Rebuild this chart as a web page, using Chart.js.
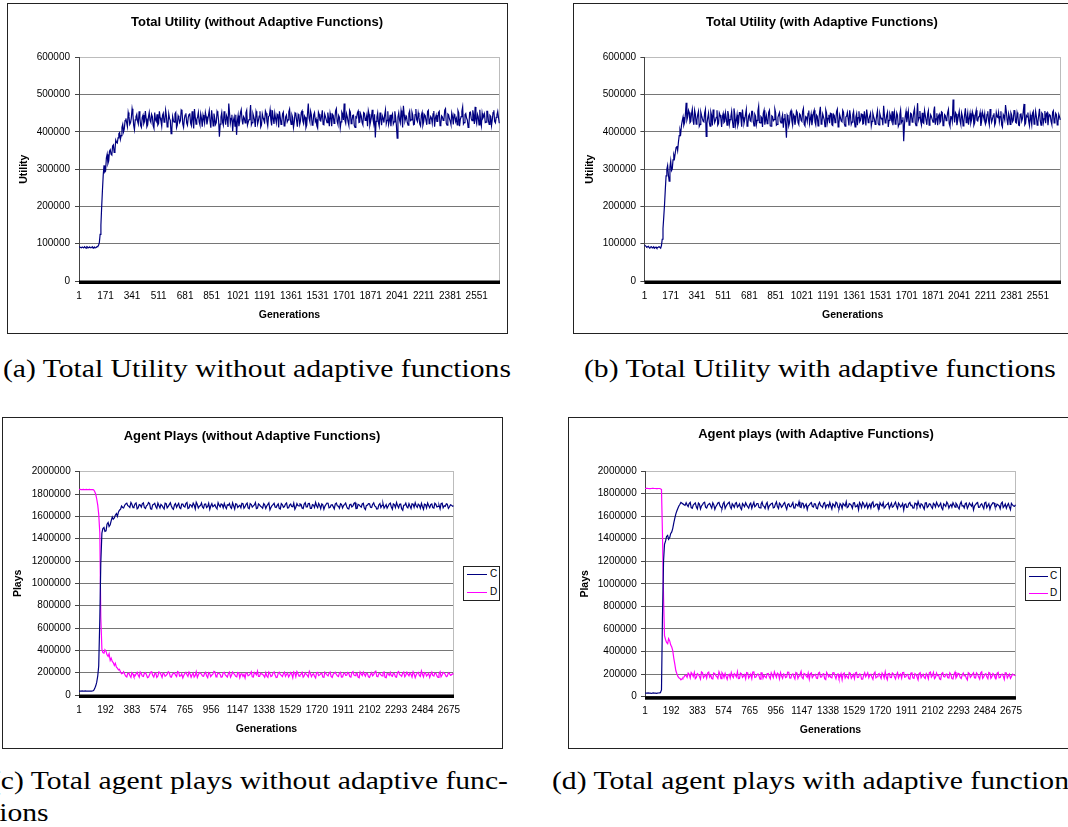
<!DOCTYPE html>
<html><head><meta charset="utf-8">
<script src="https://cdn.jsdelivr.net/npm/chart.js@4.4.1/dist/chart.umd.min.js"></script>
<style>
html,body{margin:0;padding:0;background:#fff;}
body{width:1068px;height:827px;overflow:hidden;position:relative;}
.panel{position:absolute;border:1px solid #222;box-sizing:border-box;}
canvas{position:absolute;}
.ctitle{position:absolute;width:400px;text-align:center;font:bold 13px 'Liberation Sans',Arial,sans-serif;line-height:16px;color:#000;white-space:nowrap;}
.cap{position:absolute;top:0;font-family:'Liberation Serif','Times New Roman',serif;font-size:25px;line-height:30px;white-space:nowrap;color:#000;transform-origin:0 0;}
.legend{position:absolute;border:1px solid #222;box-sizing:border-box;background:#fff;font:10px 'Liberation Sans',Arial,sans-serif;color:#000;}
.legend .ln{position:absolute;height:1px;}
.legend .lt{position:absolute;line-height:12px;}
</style></head><body>

<div class="panel" style="left:7px;top:3px;width:501px;height:331px;"></div>
<div class="panel" style="left:573px;top:3px;width:520px;height:331px;"></div>
<div class="panel" style="left:2px;top:417px;width:501px;height:332px;"></div>
<div class="panel" style="left:568px;top:417px;width:520px;height:332px;"></div>

<canvas id="chA" width="498" height="329" style="left:8px;top:4px;"></canvas>
<canvas id="chB" width="494" height="329" style="left:574px;top:4px;"></canvas>
<canvas id="chC" width="498" height="329" style="left:3px;top:418px;"></canvas>
<canvas id="chD" width="494" height="329" style="left:569px;top:418px;"></canvas>

<div class="ctitle" style="left:57px;top:14px;">Total Utility (without Adaptive Functions)</div>
<div class="ctitle" style="left:622px;top:14px;">Total Utility (with Adaptive Functions)</div>
<div class="ctitle" style="left:52px;top:428px;">Agent Plays (without Adaptive Functions)</div>
<div class="ctitle" style="left:616px;top:426px;">Agent plays (with Adaptive Functions)</div>

<div class="legend" id="legC" style="left:463px;top:566px;width:37px;height:35px;"></div>
<div class="legend" id="legD" style="left:1025px;top:567px;width:36px;height:34px;"></div>

<div class="cap" id="capA" data-baseline="377">(a) Total Utility without adaptive functions</div>
<div class="cap" id="capB" data-baseline="377">(b) Total Utility with adaptive functions</div>
<div class="cap" id="capC1" data-baseline="789">(c) Total agent plays without adaptive func-</div>
<div class="cap" id="capC2" data-baseline="821">tions</div>
<div class="cap" id="capD" data-baseline="789">(d) Total agent plays with adaptive functions</div>

<script>
// ---------------- DATA ----------------
// Utility, in thousands. "main" arrays: generations 1, 11, 21, ...; "mid" arrays: generations 6, 16, 26, ...
const UTIL_GEN_STEP = 10, UTIL_MID_OFFSET = 5;
const utilityWithout_k = [
92,90,91,89,90,92,89,91,90,88,
91,90,93,103,150,245,310,295,340,322,
352,338,365,350,372,384,398,390,420,408,
436,414,441,425,462,418,432,447,421,438,
412,445,428,436,419,452,426,441,410,433,
447,422,438,415,450,429,443,420,436,395,
441,426,452,418,437,430,456,412,445,424,
438,450,417,433,461,421,440,427,448,414,
435,452,420,444,428,458,416,437,425,449,
387,440,426,455,419,438,476,423,446,431,
415,392,444,428,460,420,437,451,418,433,
472,425,441,413,447,430,455,419,438,426,
450,416,443,431,458,421,436,447,412,440,
427,453,418,445,432,461,420,438,426,449,
414,443,430,456,422,439,418,476,428,445,
421,452,434,410,447,429,458,419,441,425,
437,450,415,444,431,462,420,439,427,448,
476,423,441,418,453,430,445,412,438,456,
426,442,419,450,433,415,447,428,459,421,
385,440,425,452,418,437,446,422,455,430,
415,448,427,439,383,451,424,443,470,429,
441,418,456,432,445,420,461,428,439,416,
452,427,443,419,458,431,437,448,414,445,
428,455,421,440,433,462,418,446,429,451,
420,443,436,457,415,441,467,425,449,432,
418,453,430,445,467,422,440,459,416,437,
448,426,455,420,441,433,458,424,446,438
];
const utilityWithout_mid_k = [
91,89,90,92,88,91,90,89,92,90,
89,92,96,125,200,285,292,330,315,348,
340,362,345,378,370,395,380,412,400,430,
425,452,420,437,448,406,441,429,455,417,
439,422,456,414,440,431,447,417,452,428,
418,455,429,444,426,458,413,449,431,407,
430,448,411,443,425,459,421,434,450,418,
446,424,455,409,440,433,452,419,436,445,
423,441,432,457,411,438,449,420,455,429,
421,452,418,437,444,413,450,436,402,440,
446,428,415,452,433,441,424,458,426,447,
419,449,432,455,421,442,413,448,431,456,
428,441,459,417,436,450,424,443,455,420,
448,416,440,427,454,433,445,412,451,430,
447,420,452,429,443,411,450,437,455,418,
446,428,416,453,431,442,420,448,433,452,
415,439,447,423,456,428,444,411,453,432,
431,449,427,458,422,444,417,440,451,425,
449,425,452,431,444,457,418,440,433,447,
428,451,415,436,443,425,459,431,420,446,
442,421,455,418,440,432,457,412,446,437,
425,449,430,453,419,446,433,451,421,444,
418,446,430,455,422,441,423,456,437,428,
452,417,443,431,458,423,448,435,420,441,
447,428,419,451,433,455,421,446,437,412,
452,436,458,421,432,447,419,429,450,441,
425,455,431,444,417,452,428,439,455,423
];
const utilityWith_k = [
97,93,92,90,91,89,92,90,88,91,
90,95,140,205,282,310,268,322,300,338,
345,362,372,405,418,440,425,478,440,452,
428,461,419,447,432,455,420,444,429,451,
388,438,426,453,417,442,431,458,422,445,
413,449,428,437,456,420,441,430,463,418,
446,425,452,414,439,433,460,421,447,428,
455,416,442,431,469,424,438,450,419,444,
427,458,415,441,433,452,420,446,429,437,
411,448,384,440,425,457,418,443,431,452,
420,445,428,463,416,439,450,422,447,433,
458,419,442,430,467,425,440,414,451,436,
423,449,417,444,432,461,421,438,427,453,
415,442,435,458,420,446,429,440,418,455,
431,447,422,439,460,425,443,416,450,434,
428,457,419,441,436,470,424,445,413,449,
432,418,453,427,444,421,459,430,375,442,
426,455,420,448,433,462,417,477,438,429,
451,423,444,419,457,430,441,426,468,435,
418,447,429,452,421,443,436,460,415,440,
487,425,448,431,455,420,442,428,463,437,
419,450,433,446,424,458,429,441,416,453,
435,421,447,430,461,426,444,418,452,439,
427,455,413,441,472,432,449,420,445,431,
458,424,443,417,450,436,475,423,440,429,
446,419,455,432,441,427,462,418,448,435,
423,452,438,444,420,457,431,446,425,440
];
const utilityWith_mid_k = [
95,91,93,89,92,90,88,91,89,92,
88,112,172,245,300,285,305,296,325,330,
358,350,390,396,430,418,446,432,458,425,
449,430,458,421,446,415,453,436,427,460,
423,450,415,444,460,425,439,418,451,436,
440,425,451,418,445,433,455,412,448,431,
417,452,436,460,423,447,415,442,430,455,
428,447,419,456,425,441,413,458,433,422,
453,416,443,430,461,418,439,452,424,446,
435,420,445,416,452,430,447,419,456,425,
448,431,455,420,441,428,457,434,418,451,
427,445,416,453,421,448,432,459,424,446,
450,419,447,425,455,413,446,429,458,422,
440,452,417,443,426,455,413,449,438,427,
448,421,455,417,444,433,450,428,441,420,
445,422,450,435,418,446,428,453,431,442,
455,440,421,451,415,447,425,439,420,455,
441,418,450,426,453,424,446,431,456,419,
425,457,431,448,418,446,433,455,419,450,
442,425,454,417,446,430,452,422,441,428,
445,452,418,444,429,451,416,447,425,451,
436,424,454,418,447,431,440,452,428,444,
449,427,455,419,441,434,450,425,441,452,
441,419,446,432,455,418,440,451,427,457,
426,452,418,446,429,455,419,444,452,417,
433,450,421,455,418,444,430,451,424,456,
449,418,446,428,453,424,450,419,447,432
];
// Plays, in thousands. "main": generations 1, 16, 31, ...; "mid": generations 8, 23, 38, ...
const PLAYS_GEN_STEP = 15, PLAYS_MID_OFFSET = 7;
const playsC_without_k = [
35,34,35,36,34,35,35,40,80,170,
680,1450,1500,1470,1545,1525,1595,1585,1625,1640,
1665,1680,1700,1718,1690,1724,1678,1712,1668,1705,
1683,1721,1670,1702,1715,1664,1708,1686,1719,1675,
1697,1666,1713,1689,1722,1672,1703,1681,1716,1669,
1710,1684,1725,1676,1699,1718,1667,1706,1691,1720,
1673,1711,1688,1662,1714,1695,1679,1723,1685,1704,
1716,1670,1700,1682,1721,1665,1709,1692,1676,1713,
1687,1719,1668,1705,1694,1724,1674,1702,1683,1715,
1671,1708,1658,1697,1717,1680,1712,1666,1703,1688,
1720,1677,1710,1686,1664,1714,1693,1707,1669,1722,
1684,1716,1672,1701,1725,1678,1697,1711,1663,1706,
1718,1681,1704,1667,1719,1690,1713,1675,1708,1686,
1666,1709,1694,1723,1671,1703,1682,1717,1660,1700,
1712,1679,1721,1687,1668,1715,1698,1673,1706,1692,
1719,1664,1703,1724,1676,1710,1655,1701,1685,1714,
1670,1708,1722,1681,1699,1716,1663,1705,1720,1678,
1711,1674,1707,1689,1666,1718,1695,1712,1672,1704,1690
];
const playsC_without_mid_k = [
34,36,34,35,35,34,36,55,110,260,
1180,1490,1465,1530,1510,1560,1575,1610,1600,1655,
1692,1675,1712,1696,1680,1708,1688,1720,1676,1701,
1712,1679,1694,1724,1668,1703,1716,1672,1698,1707,
1681,1718,1676,1705,1693,1663,1714,1700,1678,1710,
1690,1715,1670,1706,1682,1701,1726,1675,1696,1684,
1709,1679,1717,1693,1686,1705,1668,1700,1711,1677,
1688,1703,1715,1671,1696,1712,1680,1699,1717,1673,
1708,1676,1714,1683,1702,1669,1711,1690,1673,1704,
1693,1721,1679,1705,1684,1698,1672,1715,1681,1710,
1674,1700,1689,1718,1682,1697,1712,1675,1708,1684,
1715,1671,1706,1680,1695,1716,1668,1703,1690,1719,
1676,1701,1687,1710,1694,1673,1707,1696,1719,1671,
1705,1684,1716,1670,1708,1692,1711,1674,1698,1713,
1681,1707,1693,1666,1702,1679,1716,1688,1674,1710,
1686,1712,1678,1697,1708,1669,1700,1718,1676,1693,
1712,1681,1695,1710,1672,1688,1709,1676,1698,1704,
1679,1717,1685,1700,1713,1677,1690,1708,1684,1700,1695
];
const playsD_without_k = [
1842,1840,1841,1840,1839,1841,1840,1838,1800,1700,
1450,410,375,390,345,310,300,265,250,225,
205,195,185,162,196,158,188,171,203,160,
191,166,200,155,184,207,161,195,170,199,
157,190,176,209,163,186,198,165,202,172,
154,193,181,205,160,197,175,158,201,187,
168,204,156,192,179,211,162,198,185,164,
203,170,194,159,206,182,163,199,188,167,
152,196,178,208,161,193,214,166,189,174,
200,158,191,172,207,156,197,183,165,204,
186,162,201,155,194,210,169,187,160,199,
176,212,164,190,153,202,180,196,159,192,
171,206,157,195,184,166,203,161,198,178,
193,160,209,173,197,154,188,205,168,191,
158,199,182,213,164,194,170,206,155,190,
202,167,189,159,210,178,196,163,204,172,
185,207,156,198,175,215,162,196,183,157,
204,169,193,158,208,181,197,164,200,177,190
];
const playsD_without_mid_k = [
1841,1840,1839,1841,1840,1840,1839,1825,1760,1620,
700,380,405,360,370,330,290,285,240,230,
190,208,170,192,175,200,163,189,178,205,
169,194,182,160,203,176,190,158,206,183,
196,168,187,201,159,193,177,210,168,190,
175,203,166,190,182,161,209,179,195,170,
192,173,200,165,187,206,174,193,160,199,
180,160,205,177,194,168,201,155,191,184,
198,171,189,163,202,180,167,195,185,160,
170,205,165,196,182,158,204,176,190,167,
197,176,189,207,163,192,178,203,171,188,
162,195,183,168,201,174,190,161,205,180,
194,167,186,203,172,196,160,189,177,202,
165,199,180,192,161,206,174,187,196,163,
183,172,204,167,191,180,201,159,193,176,
174,195,163,200,183,168,206,177,187,198,
161,190,179,203,166,187,200,170,194,183,
175,196,171,189,163,202,184,169,193,180,186
];
const playsC_with_k = [
33,31,32,30,33,31,32,34,60,1200,
1380,1430,1410,1460,1540,1620,1670,1705,1715,1700,
1718,1685,1722,1670,1709,1680,1716,1664,1702,1723,
1672,1706,1689,1719,1660,1700,1721,1677,1711,1668,
1704,1724,1666,1695,1714,1679,1708,1658,1697,1719,
1683,1705,1669,1722,1692,1712,1674,1725,1686,1707,
1665,1701,1716,1678,1726,1667,1703,1690,1720,1661,
1710,1682,1719,1671,1700,1727,1676,1713,1694,1659,
1699,1721,1680,1708,1666,1723,1688,1714,1673,1702,
1720,1663,1697,1724,1678,1711,1668,1700,1728,1684,
1706,1670,1718,1688,1657,1703,1722,1679,1714,1693,
1672,1726,1690,1708,1664,1699,1719,1681,1705,1669,
1715,1686,1724,1667,1701,1692,1655,1709,1680,1721,
1696,1673,1711,1729,1677,1703,1662,1718,1689,1706,
1668,1702,1722,1683,1714,1658,1697,1725,1671,1704,
1719,1680,1700,1664,1727,1692,1710,1669,1716,1688,
1656,1703,1721,1679,1709,1666,1724,1695,1661,1706,
1717,1682,1698,1666,1723,1690,1670,1712,1657,1699,1688
];
const playsC_with_mid_k = [
32,33,31,31,32,30,33,35,700,1350,
1420,1395,1445,1490,1580,1645,1690,1722,1708,1695,
1700,1712,1676,1698,1717,1664,1707,1690,1718,1679,
1695,1713,1671,1702,1684,1716,1693,1668,1724,1688,
1714,1686,1709,1678,1720,1690,1675,1711,1683,1700,
1671,1716,1697,1683,1712,1678,1704,1693,1668,1721,
1690,1711,1673,1706,1684,1715,1679,1709,1686,1703,
1685,1700,1672,1707,1690,1681,1716,1675,1707,1692,
1713,1687,1710,1672,1704,1694,1677,1721,1698,1681,
1692,1709,1681,1716,1667,1700,1712,1689,1676,1711,
1695,1716,1683,1701,1720,1676,1709,1693,1670,1707,
1714,1680,1706,1675,1718,1689,1672,1700,1717,1691,
1679,1708,1690,1715,1682,1712,1703,1677,1711,1694,
1672,1715,1687,1701,1710,1682,1716,1678,1709,1683,
1714,1681,1704,1697,1675,1709,1686,1711,1692,1680,
1700,1713,1679,1706,1689,1673,1716,1688,1703,1712,
1689,1714,1678,1700,1688,1718,1676,1710,1691,1720,
1684,1705,1692,1711,1677,1707,1694,1683,1713,1690,1701
];
const playsD_with_k = [
1845,1846,1844,1845,1847,1845,1844,1845,1835,880,
505,470,495,440,340,230,180,162,158,175,
188,209,166,200,215,170,195,156,211,183,
164,218,192,158,205,177,221,160,196,207,
153,199,214,168,193,222,162,203,185,159,
210,182,161,219,174,201,155,212,190,167,
206,158,189,220,171,198,213,163,195,176,
217,165,202,157,208,185,224,160,199,172,
154,211,186,198,161,216,175,204,152,197,
193,166,213,159,202,180,150,209,188,163,
207,181,160,215,172,198,156,212,194,168,
199,155,218,177,205,162,191,220,151,206,
170,201,158,214,189,164,216,176,197,155,
211,163,195,149,214,187,170,205,158,219,
188,160,209,192,152,213,175,200,166,196,
157,218,182,203,161,210,190,149,204,184,
212,166,199,156,220,178,204,159,209,180,
193,162,215,171,201,154,210,186,163,200,190
];
const playsD_with_mid_k = [
1846,1845,1844,1846,1845,1844,1845,1843,1450,540,
480,515,460,410,290,205,168,150,172,190,
172,198,214,178,160,204,181,219,168,196,
209,175,161,210,186,162,199,213,170,180,
191,165,185,204,176,160,210,172,196,214,
165,201,218,170,193,186,212,164,178,203,
178,211,168,196,208,158,185,201,170,218,
166,196,178,214,162,197,171,206,184,210,
203,170,193,165,209,174,198,160,215,176,
171,212,186,194,162,205,199,166,175,214,
163,197,210,170,201,155,188,176,212,190,
175,204,167,196,184,210,165,177,203,171,
211,178,195,166,200,215,172,196,160,208,
168,204,176,206,169,199,161,190,212,173,
214,170,186,158,203,179,196,168,211,160,
195,166,207,172,190,185,165,213,171,198,
168,211,176,209,163,197,176,215,163,205,
172,207,168,196,183,212,166,200,178,195,186
];
// Tick labels and series names
const utilityXTicks = [1,171,341,511,681,851,1021,1191,1361,1531,1701,1871,2041,2211,2381,2551];
const playsXTicks = [1,192,383,574,765,956,1147,1338,1529,1720,1911,2102,2293,2484,2675];
const utilityYTicks = [0,100000,200000,300000,400000,500000,600000];
const playsYTicks = [0,200000,400000,600000,800000,1000000,1200000,1400000,1600000,1800000,2000000];
const seriesLabels = ['C', 'D'];
const NAVY = '#000080', MAGENTA = '#ff00ff';

// merge the two sampled arrays into {generation, value} points (values given in thousands)
function toPoints(main, mid, step, offset) {
  const pts = [];
  main.forEach((v, i) => {
    pts.push({ x: 1 + step * i, y: v * 1000 });
    if (mid[i] !== undefined) pts.push({ x: 1 + step * i + offset, y: mid[i] * 1000 });
  });
  return pts;
}

// ---------------- CHARTS ----------------
Chart.defaults.font.family = "'Liberation Sans', Arial, sans-serif";
Chart.defaults.color = '#000';

const deco = {
  id: 'deco',
  beforeDatasetsDraw(chart) {
    const { ctx, chartArea: a } = chart;
    ctx.save();
    ctx.strokeStyle = '#bcbcbc'; ctx.lineWidth = 1;
    ctx.beginPath(); ctx.moveTo(a.right - 0.5, a.top); ctx.lineTo(a.right - 0.5, a.bottom); ctx.stroke();
    ctx.restore();
  },
  afterDatasetsDraw(chart) {
    const { ctx, chartArea: a } = chart;
    ctx.save();
    ctx.fillStyle = '#000';
    ctx.fillRect(a.left, a.bottom - 0.5, a.right - a.left, 3.5);
    ctx.restore();
  }
};

function buildChart(id, spec) {
  const ymax = spec.yTicks[spec.yTicks.length - 1];
  return new Chart(document.getElementById(id), {
    type: 'line',
    data: {
      datasets: spec.series.map(s => ({
        label: s.label,
        data: s.points,
        borderColor: s.color, backgroundColor: s.color,
        borderWidth: s.width, pointRadius: 0, tension: 0, fill: false
      }))
    },
    options: {
      responsive: false, animation: false, events: [], devicePixelRatio: 1,
      layout: { padding: { left: 0, top: spec.padTop, right: spec.padRight, bottom: 0 } },
      plugins: { legend: { display: false }, tooltip: { enabled: false }, title: { display: false } },
      scales: {
        x: {
          type: 'linear', min: spec.xMin, max: spec.xMax,
          afterBuildTicks: sc => { sc.ticks = spec.xTicks.map(v => ({ value: v })); },
          afterFit: sc => { sc.height = spec.xHeight; },
          ticks: { autoSkip: false, maxRotation: 0, minRotation: 0, padding: spec.xTickPad,
                   font: { size: 10 }, color: '#000', callback: v => String(v) },
          grid: { display: false, drawTicks: false },
          border: { display: false },
          title: { display: true, text: 'Generations', font: { size: 10.5, weight: 'bold' }, color: '#000',
                   padding: { top: 0, bottom: spec.xTitlePad } }
        },
        y: {
          type: 'linear', min: 0, max: ymax,
          afterBuildTicks: sc => { sc.ticks = spec.yTicks.map(v => ({ value: v })); },
          afterFit: sc => { sc.width = spec.yWidth; },
          ticks: { padding: spec.yTickPad, font: { size: 10 }, color: '#000', callback: v => String(v) },
          grid: { color: c => (c.tick && c.tick.value === ymax) ? '#bcbcbc' : '#767676',
                  tickColor: '#444', tickLength: 4, lineWidth: 1 },
          border: { display: true, color: '#444', width: 1 },
          title: { display: true, text: spec.yTitle, font: { size: 10.5, weight: 'bold' }, color: '#000',
                   padding: { top: spec.yTitlePad, bottom: 0 } }
        }
      }
    },
    plugins: [deco]
  });
}

const chA = buildChart('chA', {
  xTicks: utilityXTicks, yTicks: utilityYTicks, xMin: 0.5, xMax: 2700.5,
  series: [{ label: 'Utility', points: toPoints(utilityWithout_k, utilityWithout_mid_k, UTIL_GEN_STEP, UTIL_MID_OFFSET), color: NAVY, width: 1.2 }],
  yTitle: 'Utility', padTop: 53.3, padRight: 6, yWidth: 71, xHeight: 52,
  xTickPad: 9, xTitlePad: 11.7, yTickPad: 5, yTitlePad: 9.7
});
const chB = buildChart('chB', {
  xTicks: utilityXTicks, yTicks: utilityYTicks, xMin: 0.5, xMax: 2700.5,
  series: [{ label: 'Utility', points: toPoints(utilityWith_k, utilityWith_mid_k, UTIL_GEN_STEP, UTIL_MID_OFFSET), color: NAVY, width: 1.2 }],
  yTitle: 'Utility', padTop: 53.3, padRight: 7, yWidth: 70.4, xHeight: 52,
  xTickPad: 9, xTitlePad: 11.7, yTickPad: 4.3, yTitlePad: 9.7
});
const chC = buildChart('chC', {
  xTicks: playsXTicks, yTicks: playsYTicks, xMin: 0.5, xMax: 2711.5,
  series: [{ label: seriesLabels[0], points: toPoints(playsC_without_k, playsC_without_mid_k, PLAYS_GEN_STEP, PLAYS_MID_OFFSET), color: NAVY, width: 1.2 },
           { label: seriesLabels[1], points: toPoints(playsD_without_k, playsD_without_mid_k, PLAYS_GEN_STEP, PLAYS_MID_OFFSET), color: MAGENTA, width: 1.2 }],
  yTitle: 'Plays', padTop: 53.7, padRight: 47, yWidth: 76, xHeight: 52,
  xTickPad: 9.7, xTitlePad: 11.7, yTickPad: 4.3, yTitlePad: 8.7
});
const chD = buildChart('chD', {
  xTicks: playsXTicks, yTicks: playsYTicks, xMin: 0.5, xMax: 2711.5,
  series: [{ label: seriesLabels[0], points: toPoints(playsC_with_k, playsC_with_mid_k, PLAYS_GEN_STEP, PLAYS_MID_OFFSET), color: NAVY, width: 1.2 },
           { label: seriesLabels[1], points: toPoints(playsD_with_k, playsD_with_mid_k, PLAYS_GEN_STEP, PLAYS_MID_OFFSET), color: MAGENTA, width: 1.2 }],
  yTitle: 'Plays', padTop: 53, padRight: 47, yWidth: 76, xHeight: 50.3,
  xTickPad: 9, xTitlePad: 10.7, yTickPad: 4.3, yTitlePad: 9.7
});

// ---------------- LEGENDS (built from the chart datasets) ----------------
function buildLegend(boxId, chart, lay) {
  const box = document.getElementById(boxId);
  chart.data.datasets.forEach((ds, i) => {
    const y = lay.rows[i];
    const ln = document.createElement('div');
    ln.className = 'ln';
    ln.style.left = lay.lineX0 + 'px';
    ln.style.width = (lay.lineX1 - lay.lineX0) + 'px';
    ln.style.top = y + 'px';
    ln.style.backgroundColor = ds.borderColor;
    const lt = document.createElement('div');
    lt.className = 'lt';
    lt.style.left = lay.textX + 'px';
    lt.style.top = (y - 6) + 'px';
    lt.textContent = ds.label;
    box.appendChild(ln); box.appendChild(lt);
  });
}
buildLegend('legC', chC, { rows: [7, 25], lineX0: 3, lineX1: 23, textX: 26 });
buildLegend('legD', chD, { rows: [8, 25], lineX0: 3, lineX1: 22, textX: 24 });

// ---------------- CAPTIONS ----------------
(function placeCaptions() {
  const ids = ['capA', 'capB', 'capC1', 'capC2', 'capD'];
  const els = {};
  ids.forEach(id => {
    const el = document.getElementById(id);
    const mk = document.createElement('span');
    mk.style.cssText = 'display:inline-block;width:0;height:0;vertical-align:baseline;';
    el.appendChild(mk);
    const b0 = mk.getBoundingClientRect().top;
    el.style.top = (Number(el.dataset.baseline) - b0) + 'px';
    els[id] = { el, w: el.offsetWidth };
  });
  const probe = document.createElement('span');
  probe.className = 'cap'; probe.style.visibility = 'hidden'; probe.textContent = '(';
  document.body.appendChild(probe);
  const parenW = probe.offsetWidth; probe.remove();
  const s = 508 / els.capA.w;
  const set = (id, left) => { els[id].el.style.left = left + 'px'; els[id].el.style.transform = `scaleX(${s})`; };
  set('capA', 2.5);
  set('capB', 584);
  const c1Left = -parenW * s + 0.5;
  set('capC1', c1Left);
  set('capC2', c1Left);
  set('capD', 552);
})();
</script>
</body></html>
